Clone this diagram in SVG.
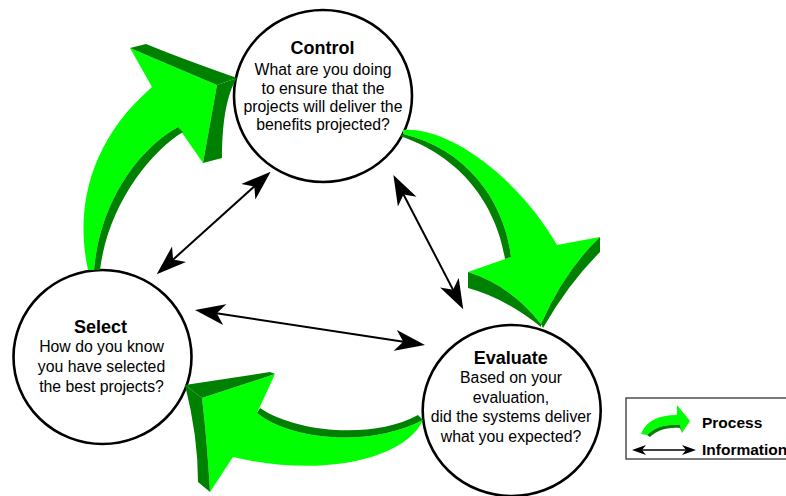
<svg xmlns="http://www.w3.org/2000/svg" width="786" height="496" viewBox="0 0 786 496">
  <style>
    .node { fill: #ffffff; stroke: #000000; stroke-width: 2.6; }
    .title { font-family: "Liberation Sans", Arial, sans-serif; font-size: 18px; font-weight: bold; fill: #000; text-anchor: middle; }
    .body { font-family: "Liberation Sans", Arial, sans-serif; font-size: 15.8px; fill: #000; text-anchor: middle; }
    .front { fill: #00ff00; }
    .side { fill: #008000; }
    .info { fill: none; stroke: #000; stroke-width: 2; }
    .legend-text { font-family: "Liberation Sans", Arial, sans-serif; font-size: 15.5px; font-weight: bold; fill: #000; }
  </style>
  <defs>
    <!-- stealth-style arrowhead for information flows -->
    <marker id="head" viewBox="0 -11 30 22" refX="10" refY="0" markerWidth="30" markerHeight="22" markerUnits="userSpaceOnUse" orient="auto-start-reverse">
      <path d="M30,0 L0,-10.5 L8,0 L0,10.5 Z" fill="#000"/>
    </marker>
    <marker id="head-small" viewBox="0 -6 14 12" refX="4" refY="0" markerWidth="14" markerHeight="12" markerUnits="userSpaceOnUse" orient="auto-start-reverse">
      <path d="M14,0 L0,-5 L4,0 L0,5 Z" fill="#000"/>
    </marker>
  </defs>

  <rect width="786" height="496" fill="#ffffff"/>

  <!-- nodes -->
  <g id="control">
    <ellipse class="node" cx="323" cy="96" rx="89" ry="86"/>
    <text class="title" x="322.5" y="53.5">Control</text>
    <text class="body" x="323" y="75">What are you doing</text>
    <text class="body" x="323" y="93.5">to ensure that the</text>
    <text class="body" x="323" y="111.5">projects will deliver the</text>
    <text class="body" x="323" y="130">benefits projected?</text>
  </g>

  <g id="select">
    <ellipse class="node" cx="102.5" cy="357" rx="89" ry="87"/>
    <text class="title" x="100.5" y="332.7">Select</text>
    <text class="body" x="101.5" y="352.3">How do you know</text>
    <text class="body" x="101.5" y="372">you have selected</text>
    <text class="body" x="101.5" y="391.7">the best projects?</text>
  </g>

  <g id="evaluate">
    <ellipse class="node" cx="511.7" cy="410.5" rx="89" ry="85.5"/>
    <text class="title" x="510.8" y="364">Evaluate</text>
    <text class="body" x="511" y="383.3">Based on your</text>
    <text class="body" x="511" y="402.7">evaluation,</text>
    <text class="body" x="511" y="422.3">did the systems deliver</text>
    <text class="body" x="511" y="441.7">what you expected?</text>
  </g>

  <!-- connectors -->
  <g id="connectors">
    <!-- process flow: Select to Control -->
    <g id="process-select-control">
      <path class="front" d="M130,48 Q172,66 217,85 L203,163 L178,127 C140,148 100,200 94,270 L88,270 C76,215 85,145 152,87 Z"/>
      <path class="side" d="M130,48 L146,44 Q180,58 237,78 L217,85 Q172,66 130,48 Z"/>
      <path class="side" d="M217,85 L237,78 C226,95 222,125 222,158 L203,163 Z"/>
      <path class="side" d="M178,127 L183,132 C150,152 108,205 100,270 L94,270 C100,200 140,148 178,127 Z"/>
    </g>
    <!-- process flow: Control to Evaluate -->
    <g id="process-control-evaluate">
      <path class="front" d="M403,130 C450,126 520,180 557,245 L600,237 Q565,270 541,324 Q510,285 468,272 L511,257 C505,205 470,150 403,134 Z"/>
      <path class="side" d="M403,134 C470,150 505,205 511,257 L505,259 C498,215 470,160 400,136 Z"/>
      <path class="side" d="M600,237 L600,252 Q568,284 543,328 L541,324 Q565,270 600,237 Z"/>
      <path class="side" d="M468,272 L468,288 Q505,298 541,327 L541,324 Q510,285 468,272 Z"/>
    </g>
    <!-- process flow: Evaluate to Select -->
    <g id="process-evaluate-select">
      <path class="front" d="M423,420 C405,460 320,478 233,457 L210,492 Q207,440 202,398 L275,374 L257,413 C290,440 370,448 423,420 Z"/>
      <path class="side" d="M257,413 L260,408 C295,432 372,440 418,415 L423,420 C370,448 290,440 257,413 Z"/>
      <path class="side" d="M185,385 L270,372 L275,374 L202,398 Z"/>
      <path class="side" d="M185,385 L202,398 Q207,440 210,492 L198,482 Q198,436 185,385 Z"/>
    </g>

    <!-- information flows -->
    <line class="info" x1="171.6" y1="260.9" x2="255.8" y2="185.1" marker-start="url(#head)" marker-end="url(#head)"/>
    <line class="info" x1="402.6" y1="192.7" x2="454" y2="291.6" marker-start="url(#head)" marker-end="url(#head)"/>
    <line class="info" x1="214.8" y1="313" x2="405.2" y2="342" marker-start="url(#head)" marker-end="url(#head)"/>
  </g>

  <!-- legend -->
  <g id="legend">
    <rect x="626" y="398" width="175" height="61" fill="#ffffff" stroke="#333333" stroke-width="1.3"/>
    <path class="front" d="M641,434 C646,421 658,415 677,415 L677,405 L690,421 L682,433 L680,425 C664,424 654,428 647,435 Z"/>
    <path class="side" d="M647,435 C654,428 664,424 680,425 L682,433 L680,428 C666,427 656,431 650,437 Z"/>
    <text class="legend-text" x="702" y="428.3">Process</text>
    <line x1="642" y1="450" x2="686" y2="450" stroke="#000" stroke-width="1.6" marker-start="url(#head-small)" marker-end="url(#head-small)"/>
    <text class="legend-text" x="702" y="455">Information</text>
  </g>
</svg>
